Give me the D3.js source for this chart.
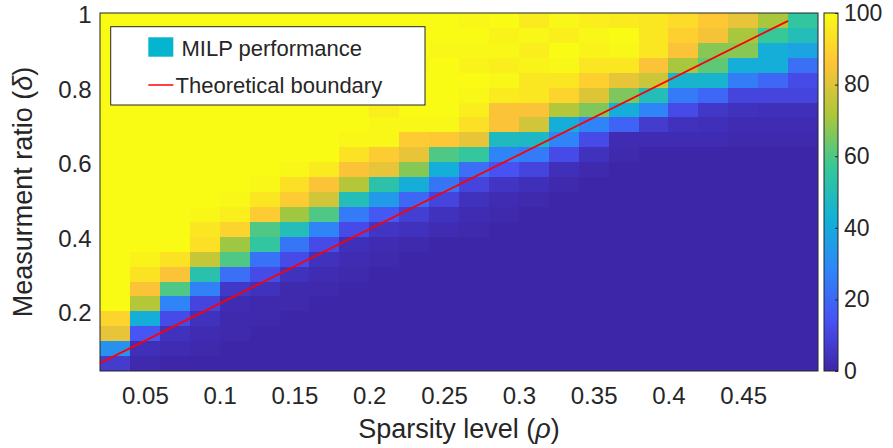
<!DOCTYPE html>
<html>
<head>
<meta charset="utf-8">
<script src="https://d3js.org/d3.v7.min.js"></script>
<style>
body { margin: 0; background: #fff; }
text { font-family: "Liberation Sans", Arial, sans-serif; fill: #262626; }
</style>
</head>
<body>
<div id="chart"></div>
<script>
// sparsity level (column centres) and measurement ratio (row centres, top row first)
var rho = [0.03, 0.05, 0.07, 0.09, 0.11, 0.13, 0.15, 0.17, 0.19, 0.21, 0.23, 0.25,
           0.27, 0.29, 0.31, 0.33, 0.35, 0.37, 0.39, 0.41, 0.43, 0.45, 0.47, 0.49];
var delta = [0.985, 0.945, 0.905, 0.865, 0.825, 0.785, 0.745, 0.705, 0.665, 0.625, 0.585, 0.545,
             0.505, 0.465, 0.425, 0.385, 0.345, 0.305, 0.265, 0.225, 0.185, 0.145, 0.105, 0.065];

// MILP success rate (%), one row per delta value
var success = [
  [100,100,100,100,100,100,100,100,100,100,100,100, 99,100, 96, 99, 97, 96, 95, 92, 87, 82, 71, 55],
  [100,100,100,100,100,100,100,100,100,100,100,100,100, 98, 99, 97, 99,100, 95, 89, 84, 71, 57, 50],
  [100,100,100,100,100,100,100,100,100,100,100, 99, 99, 99, 97,100, 98, 99, 95, 85, 67, 67, 42, 38],
  [100,100,100,100,100,100,100,100,100,100, 99,100, 98, 97, 98, 99, 95, 95, 85, 71, 62, 42, 42, 22],
  [100,100,100,100,100,100,100,100,100,100,100,100,100, 99, 95, 95, 89, 82, 77, 45, 45, 26, 20, 12],
  [100,100,100,100,100,100,100,100,100,100,100,100, 99, 96, 95, 90, 80, 66, 50, 25, 20, 10, 10, 10],
  [100,100,100,100,100,100,100,100,100, 97,100,100, 97, 85, 85, 73, 66, 42, 28, 12,  6,  4,  3,  3],
  [100,100,100,100,100,100,100,100,100, 99, 99, 99, 93, 85, 78, 42, 28, 19,  7,  4,  3,  2,  2,  2],
  [100,100,100,100,100,100,100,100, 99, 99, 88, 87, 82, 48, 47, 28, 12,  2,  2,  2,  2,  1,  1,  1],
  [100,100,100,100,100,100,100,100, 94, 88, 82, 60, 56, 28, 25, 12,  4,  1,  0,  0,  0,  0,  0,  0],
  [100,100,100,100,100,100, 99, 96, 85, 82, 67, 42, 22, 14, 10,  3,  1,  0,  0,  0,  0,  0,  0,  0],
  [100,100,100,100,100, 99, 93, 85, 73, 53, 42, 24, 10,  5,  3,  1,  0,  0,  0,  0,  0,  0,  0,  0],
  [100,100,100,100, 99, 95, 88, 78, 50, 35, 20, 10,  4,  2,  1,  0,  0,  0,  0,  0,  0,  0,  0,  0],
  [100,100,100, 99, 97, 88, 70, 60, 25, 16,  8,  4,  2,  1,  0,  0,  0,  0,  0,  0,  0,  0,  0,  0],
  [100,100,100, 95, 90, 60, 50, 28, 12,  5,  4,  2,  1,  0,  0,  0,  0,  0,  0,  0,  0,  0,  0,  0],
  [100,100,100, 93, 70, 55, 24, 12,  3,  2,  1,  0,  0,  0,  0,  0,  0,  0,  0,  0,  0,  0,  0,  0],
  [100, 98, 94, 76, 60, 23, 12,  4,  2,  1,  0,  0,  0,  0,  0,  0,  0,  0,  0,  0,  0,  0,  0,  0],
  [100, 94, 85, 52, 22, 12,  4,  2,  1,  0,  0,  0,  0,  0,  0,  0,  0,  0,  0,  0,  0,  0,  0,  0],
  [100, 85, 60, 27,  6,  4,  1,  1,  0,  0,  0,  0,  0,  0,  0,  0,  0,  0,  0,  0,  0,  0,  0,  0],
  [100, 73, 28, 10,  2,  1,  1,  0,  0,  0,  0,  0,  0,  0,  0,  0,  0,  0,  0,  0,  0,  0,  0,  0],
  [ 90, 42, 12,  4,  1,  1,  0,  0,  0,  0,  0,  0,  0,  0,  0,  0,  0,  0,  0,  0,  0,  0,  0,  0],
  [ 82, 15,  4,  2,  1,  0,  0,  0,  0,  0,  0,  0,  0,  0,  0,  0,  0,  0,  0,  0,  0,  0,  0,  0],
  [ 32,  3,  2,  1,  0,  0,  0,  0,  0,  0,  0,  0,  0,  0,  0,  0,  0,  0,  0,  0,  0,  0,  0,  0],
  [  7,  1,  0,  0,  0,  0,  0,  0,  0,  0,  0,  0,  0,  0,  0,  0,  0,  0,  0,  0,  0,  0,  0,  0]
];

// theoretical phase transition
var boundaryRho = [0.02, 0.48];
var boundaryDelta = [0.066, 0.984];

var xTicks = [0.05, 0.1, 0.15, 0.2, 0.25, 0.3, 0.35, 0.4, 0.45];
var yTicks = [0.2, 0.4, 0.6, 0.8, 1];
var cbTicks = [0, 20, 40, 60, 80, 100];

// parula colormap stops
var parula = ["#3e26a8", "#4852f4", "#2e87f7", "#12b1d6", "#37c897", "#abc739", "#fec338", "#f9fb15"];

var w = 893;
var h = 448;
var pl = 100, pr = 818, pt = 13, pb = 371;
var drho = 0.01, ddelta = 0.02;

var x = d3.scaleLinear().domain([0.02, 0.5]).range([pl, pr]);
var y = d3.scaleLinear().domain([0.045, 1.005]).range([pb, pt]);
var color = d3.scaleSequential(d3.piecewise(d3.interpolateRgb, parula)).domain([0, 100]);

var svg = d3.select("#chart")
	.append("svg")
	.attr("width", w)
	.attr("height", h)
	.style("background", "#FFFFFF");

// heatmap cells
var cells = [];
success.forEach(function(row, i){
	row.forEach(function(v, j){
		cells.push({rho: rho[j], delta: delta[i], v: v});
	});
});

svg.append("clipPath").attr("id", "plotclip")
	.append("rect")
	.attr("x", pl).attr("y", pt)
	.attr("width", pr - pl).attr("height", pb - pt);

svg.append("g")
	.attr("clip-path", "url(#plotclip)")
	.selectAll("rect")
	.data(cells)
	.enter()
	.append("rect")
	.attr("x", function(d){ return x(d.rho - drho); })
	.attr("y", function(d){ return y(d.delta + ddelta); })
	.attr("width", function(d){ return x(d.rho + drho) - x(d.rho - drho) + 1; })
	.attr("height", function(d){ return y(d.delta - ddelta) - y(d.delta + ddelta) + 1; })
	.attr("shape-rendering", "crispEdges")
	.style("fill", function(d){ return color(d.v); });

// boundary line
var line = d3.line()
	.x(function(d){ return x(d[0]); })
	.y(function(d){ return y(d[1]); });

svg.append("path")
	.datum(boundaryRho.map(function(r, i){ return [r, boundaryDelta[i]]; }))
	.attr("d", line)
	.style("fill", "none")
	.style("stroke", "#ff0000")
	.style("stroke-width", 1.8);

// axes
var xAxis = svg.append("g")
	.attr("transform", "translate(0," + pb + ")")
	.call(d3.axisBottom(x).tickValues(xTicks).tickSize(0).tickPadding(16).tickFormat(function(d){ return String(d); }));
var yAxis = svg.append("g")
	.attr("transform", "translate(" + pl + ",0)")
	.call(d3.axisLeft(y).tickValues(yTicks).tickSize(0).tickPadding(8.5).tickFormat(function(d){ return String(d); }));
[xAxis, yAxis].forEach(function(a){
	a.select(".domain").remove();
	a.selectAll("text").style("font-size", "24px").style("fill", "#262626")
		.style("font-family", "'Liberation Sans', Arial, sans-serif");
});

svg.append("rect")
	.attr("x", pl).attr("y", pt)
	.attr("width", pr - pl).attr("height", pb - pt)
	.style("fill", "none")
	.style("stroke", "#262626")
	.style("stroke-width", 1);

// axis labels
var xl = svg.append("text")
	.attr("x", (pl + pr) / 2)
	.attr("y", 438)
	.attr("text-anchor", "middle")
	.style("font-size", "27px");
xl.append("tspan").text("Sparsity level (");
xl.append("tspan").style("font-style", "italic").text("ρ");
xl.append("tspan").text(")");

var yl = svg.append("text")
	.attr("transform", "translate(32," + ((pt + pb) / 2) + ") rotate(-90)")
	.attr("text-anchor", "middle")
	.style("font-size", "27px");
yl.append("tspan").text("Measurment ratio (");
yl.append("tspan").style("font-style", "italic").text("δ");
yl.append("tspan").text(")");

// colorbar
var cbx = 824, cbw = 14;
var cb = d3.scaleLinear().domain([0, 100]).range([pb, pt]);
var grad = svg.append("defs").append("linearGradient")
	.attr("id", "cbgrad")
	.attr("x1", 0).attr("y1", 1).attr("x2", 0).attr("y2", 0);
grad.selectAll("stop")
	.data(parula)
	.enter()
	.append("stop")
	.attr("offset", function(d, i){ return i / (parula.length - 1); })
	.attr("stop-color", function(d){ return d; });

svg.append("rect")
	.attr("x", cbx).attr("y", pt)
	.attr("width", cbw).attr("height", pb - pt)
	.style("fill", "url(#cbgrad)")
	.style("stroke", "#262626")
	.style("stroke-width", 1);

var cbAxis = svg.append("g")
	.attr("transform", "translate(" + (cbx + cbw) + ",0)")
	.call(d3.axisRight(cb).tickValues(cbTicks).tickSizeInner(-3).tickSizeOuter(0).tickPadding(6));
cbAxis.select(".domain").remove();
cbAxis.selectAll("line").style("stroke", "#262626");
cbAxis.selectAll("text").style("font-size", "23px").style("fill", "#262626")
	.style("font-family", "'Liberation Sans', Arial, sans-serif");

// legend
var lg = svg.append("g");
lg.append("rect")
	.attr("x", 110.7).attr("y", 26.7)
	.attr("width", 314.3).attr("height", 78.3)
	.style("fill", "#ffffff")
	.style("stroke", "#262626")
	.style("stroke-width", 1);
lg.append("rect")
	.attr("x", 148.3).attr("y", 37.3)
	.attr("width", 25).attr("height", 19.4)
	.style("fill", "#05b4ce");
lg.append("text")
	.attr("x", 181.5).attr("y", 56)
	.style("font-size", "22px")
	.text("MILP performance");
lg.append("line")
	.attr("x1", 148.3).attr("x2", 173.3)
	.attr("y1", 85).attr("y2", 85)
	.style("stroke", "#ff0000")
	.style("stroke-width", 1.5);
lg.append("text")
	.attr("x", 175.5).attr("y", 93)
	.style("font-size", "22px")
	.text("Theoretical boundary");
</script>
</body>
</html>
